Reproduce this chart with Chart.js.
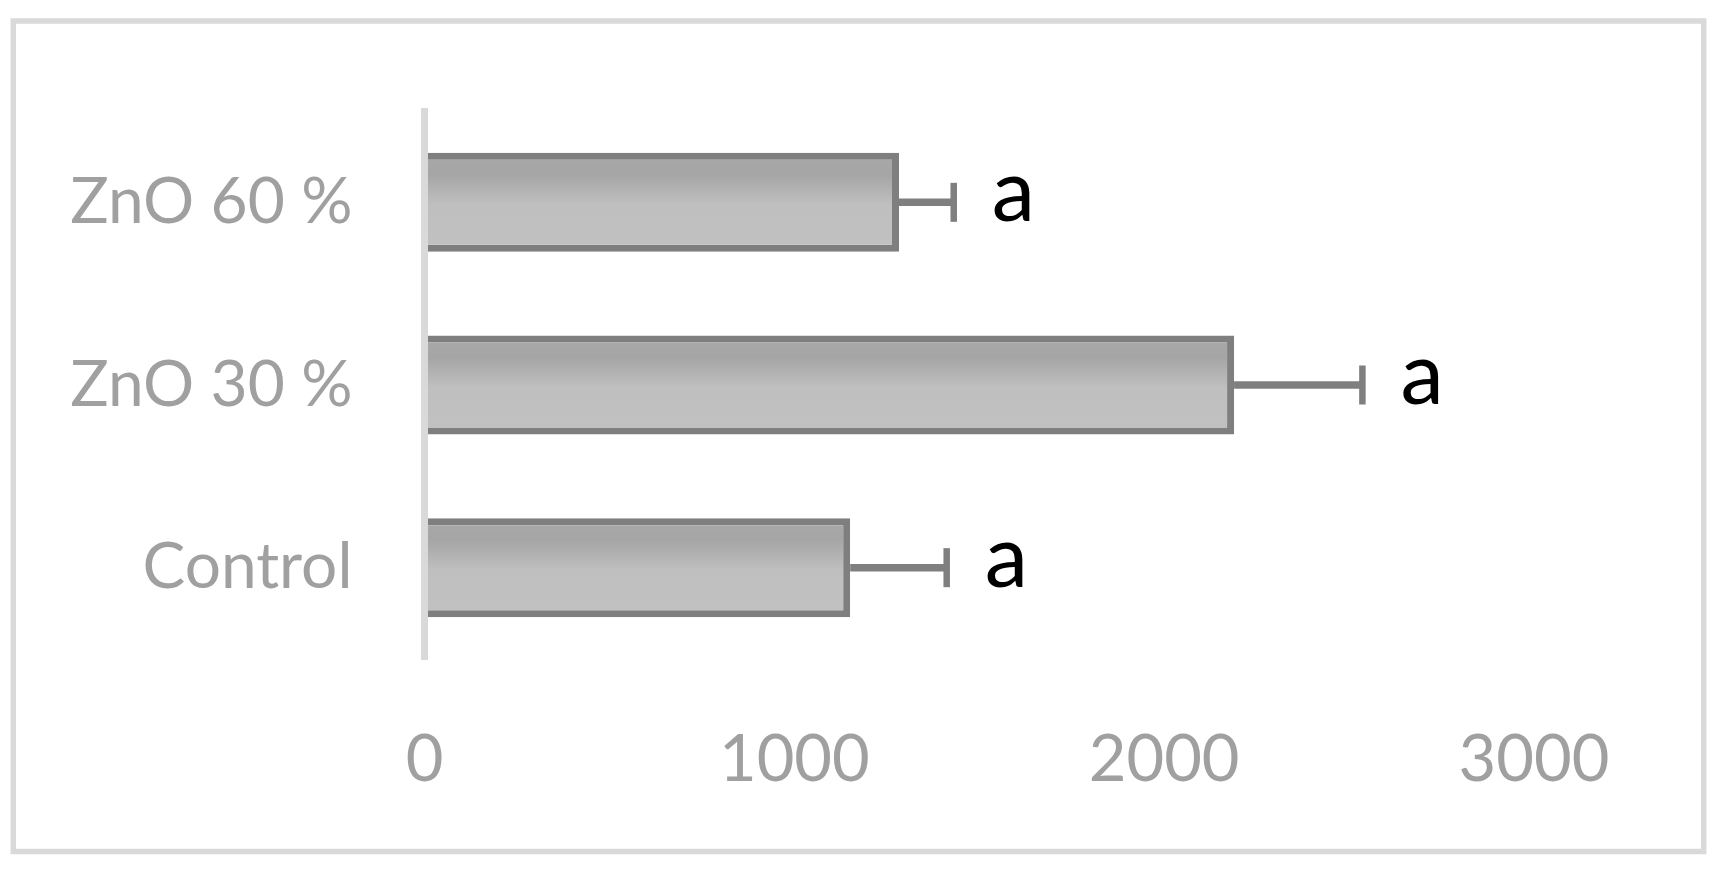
<!DOCTYPE html>
<html>
<head>
<meta charset="utf-8">
<script src="https://cdn.jsdelivr.net/npm/chart.js@4.4.1/dist/chart.umd.min.js"></script>
<style>
  html, body { margin: 0; padding: 0; background: #fff; }
  #wrap { width: 1728px; height: 876px; }
</style>
</head>
<body>
<div id="wrap"><canvas id="chart" width="1728" height="876"></canvas></div>
<script>
// ---- data ----
var categories = ['ZnO 60 %', 'ZnO 30 %', 'Control'];
var means = [1283, 2189, 1151];
var errors = [148, 347, 261];
var letters = ['a', 'a', 'a'];
var xTicks = [0, 1000, 2000, 3000];

var labelGray = '#a0a0a0';
var barEdge = '#7f7f7f';

// ==================== white page + light frame ====================
var framePlugin = {
  id: 'frame',
  beforeDraw: function(chart) {
    var ctx = chart.ctx;
    ctx.save();
    ctx.fillStyle = '#fff';
    ctx.fillRect(0, 0, chart.width, chart.height);
    ctx.strokeStyle = '#d9d9d9';
    ctx.lineWidth = 5.5;
    ctx.strokeRect(13.3, 21, 1690.4, 830.5);
    ctx.restore();
  }
};

// ==================== shaded bar fill ====================
var shadePlugin = {
  id: 'shade',
  beforeDatasetsDraw: function(chart) {
    var ctx = chart.ctx;
    chart.getDatasetMeta(0).data.forEach(function(bar) {
      var p = bar.getProps(['y', 'height'], true);
      var top = p.y - p.height / 2;
      var g = ctx.createLinearGradient(0, top, 0, top + p.height);
      g.addColorStop(0, '#a9a9a9');
      g.addColorStop(0.22, '#a5a5a5');
      g.addColorStop(0.52, '#bfbfbf');
      g.addColorStop(1, '#c1c1c1');
      // options are shared between bars, so give each bar its own copy
      bar.options = Object.assign({}, bar.options, { backgroundColor: g });
    });
  }
};

// ==================== error bars + letters ====================
var errorPlugin = {
  id: 'errors',
  afterDatasetsDraw: function(chart) {
    var ctx = chart.ctx;
    var xs = chart.scales.x;
    var bars = chart.getDatasetMeta(0).data;
    ctx.save();
    for (var i = 0; i < means.length; i++) {
      var yc = bars[i].y;
      var x0 = xs.getPixelForValue(means[i]);
      var x1 = xs.getPixelForValue(means[i] + errors[i]);
      ctx.strokeStyle = barEdge;
      ctx.lineCap = 'butt';
      ctx.lineWidth = 7.5;
      ctx.beginPath();
      ctx.moveTo(x0, yc);
      ctx.lineTo(x1, yc);
      ctx.stroke();
      ctx.lineWidth = 6.5;
      ctx.beginPath();
      ctx.moveTo(x1, yc - 19.5);
      ctx.lineTo(x1, yc + 19.5);
      ctx.stroke();

      ctx.fillStyle = '#000';
      ctx.font = '87px Lato';
      ctx.textAlign = 'left';
      ctx.textBaseline = 'alphabetic';
      ctx.fillText(letters[i], x1 + 38, yc + 19);
    }
    ctx.restore();
  }
};

var ctx = document.getElementById('chart');
var chart = new Chart(ctx, {
  type: 'bar',
  data: {
    labels: categories,
    datasets: [{
      data: means,
      borderColor: barEdge,
      borderWidth: 7,
      backgroundColor: '#b5b5b5',
      barPercentage: 0.542,
      categoryPercentage: 1
    }]
  },
  options: {
    indexAxis: 'y',
    responsive: false,
    animation: false,
    devicePixelRatio: 1,
    layout: { padding: { top: 111, right: 194, left: 0, bottom: 0 } },
    plugins: {
      legend: { display: false },
      tooltip: { enabled: false }
    },
    scales: {
      x: {
        min: xTicks[0],
        max: xTicks[xTicks.length - 1],
        afterBuildTicks: function(scale) {
          scale.ticks = xTicks.map(function(v) { return { value: v }; });
        },
        afterFit: function(scale) { scale.height = 876 - 659; },
        grid: { display: false, drawTicks: false },
        border: { display: false },
        ticks: {
          padding: 62,
          color: labelGray,
          font: { family: 'Lato', size: 65 },
          callback: function(v) { return String(v); }
        }
      },
      y: {
        afterFit: function(scale) { scale.width = 424.5; },
        grid: { display: false, drawTicks: false },
        border: { display: true, color: '#d9d9d9', width: 7, z: 1 },
        ticks: {
          padding: 72,
          color: labelGray,
          font: { family: 'Lato', size: 64 }
        }
      }
    }
  },
  plugins: [framePlugin, shadePlugin, errorPlugin]
});
</script>
</body>
</html>
